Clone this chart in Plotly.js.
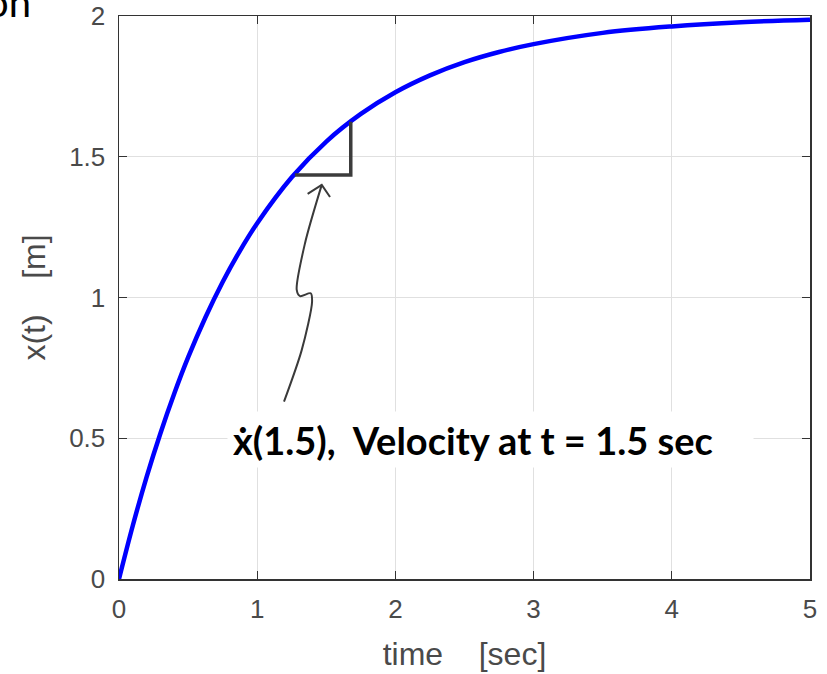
<!DOCTYPE html>
<html>
<head>
<meta charset="utf-8">
<script src="https://cdn.plot.ly/plotly-3.0.1.min.js"></script>
<style>html,body{margin:0;padding:0;background:#fff;}#chart{width:827px;height:674px;}</style>
</head>
<body>
<div id="chart"></div>
<script>
// Curve x(t)
const timeSec = [0, 0.1, 0.2, 0.3, 0.4, 0.5, 0.625, 0.75, 0.875, 1.0, 1.25, 1.5, 1.75, 2.0, 2.25, 2.5, 2.75, 3.0, 3.5, 4.0, 4.5, 5.0];
const position = [0, 0.19, 0.363, 0.518, 0.659, 0.787, 0.929, 1.055, 1.166, 1.264, 1.427, 1.554, 1.652, 1.729, 1.789, 1.836, 1.872, 1.900, 1.940, 1.963, 1.978, 1.987];

// Slope triangle
const triX = [1.273, 1.677, 1.677];
const triY = [1.435, 1.435, 1.624];

// Hand-drawn pointer arrow (from label up to triangle)
const arrowX = [1.194, 1.322, 1.397, 1.387, 1.310, 1.286, 1.346, 1.467];
const arrowY = [0.630, 0.813, 0.985, 1.015, 1.005, 1.027, 1.193, 1.400];
const headX = [1.365, 1.467, 1.527];
const headY = [1.368, 1.400, 1.357];

// Ticks
const xTicks = [0, 1, 2, 3, 4, 5];
const yTicks = [0, 0.5, 1, 1.5, 2];
const yTickText = ['0', '0.5', '1', '1.5', '2'];

const labelText = 'ẋ(1.5),  Velocity at t = 1.5 sec';
const labelPos = {x: 2.688, y: 0.4955};

const traces = [
  {x: timeSec, y: position, mode: 'lines', line: {color: '#0000ff', width: 4.5, shape: 'spline'}, hoverinfo: 'skip'},
  {x: triX, y: triY, mode: 'lines', line: {color: '#3c3c3c', width: 3.5}, hoverinfo: 'skip'},
  {x: arrowX, y: arrowY, mode: 'lines', line: {color: '#3a3a3a', width: 2, shape: 'spline', smoothing: 0.8}, hoverinfo: 'skip'},
  {x: headX, y: headY, mode: 'lines', line: {color: '#3a3a3a', width: 2}, hoverinfo: 'skip'}
];

const tickFont = {family: 'Liberation Sans, Arial, sans-serif', size: 26, color: '#4a4a4a'};
const titleFont = {family: 'Liberation Sans, Arial, sans-serif', size: 32, color: '#4a4a4a'};

const axisCommon = {
  showline: true, linecolor: '#333333', linewidth: 1.5, mirror: 'ticks',
  ticks: 'inside', ticklen: 8, tickwidth: 1.2, tickcolor: '#333333',
  showgrid: true, gridcolor: '#e0e0e0', gridwidth: 1.2,
  zeroline: false,
  tickfont: tickFont
};

const layout = {
  width: 827, height: 674,
  margin: {l: 119, r: 17, t: 16, b: 95},
  paper_bgcolor: '#ffffff', plot_bgcolor: '#ffffff',
  showlegend: false,
  xaxis: Object.assign({}, axisCommon, {
    range: [0, 5], tickvals: xTicks, ticktext: xTicks.map(String),
    ticklabelstandoff: 6,
    title: {text: 'time    [sec]', font: titleFont, standoff: 20}
  }),
  yaxis: Object.assign({}, axisCommon, {
    range: [0, 2], tickvals: yTicks, ticktext: yTickText,
    ticklabelstandoff: 7,
    title: {text: 'x(t)    [m]', font: titleFont, standoff: 14}
  }),
  annotations: [
    {x: labelPos.x, y: labelPos.y, xref: 'x', yref: 'y', text: labelText, showarrow: false,
     font: {family: 'Lato, Noto Sans, sans-serif', size: 38, color: '#000000', weight: 'bold'},
     bgcolor: '#ffffff', borderpad: 5, width: 515, height: 45, align: 'left',
     xanchor: 'center', yanchor: 'middle'},
    {x: -0.1245, y: 0.9787, xref: 'paper', yref: 'paper', text: 'on', showarrow: false,
     font: {family: 'Lato, Noto Sans, sans-serif', size: 40, color: '#000000'},
     xanchor: 'right', yanchor: 'bottom'}
  ]
};

Plotly.newPlot('chart', traces, layout, {displayModeBar: false, staticPlot: true});
</script>
</body>
</html>
